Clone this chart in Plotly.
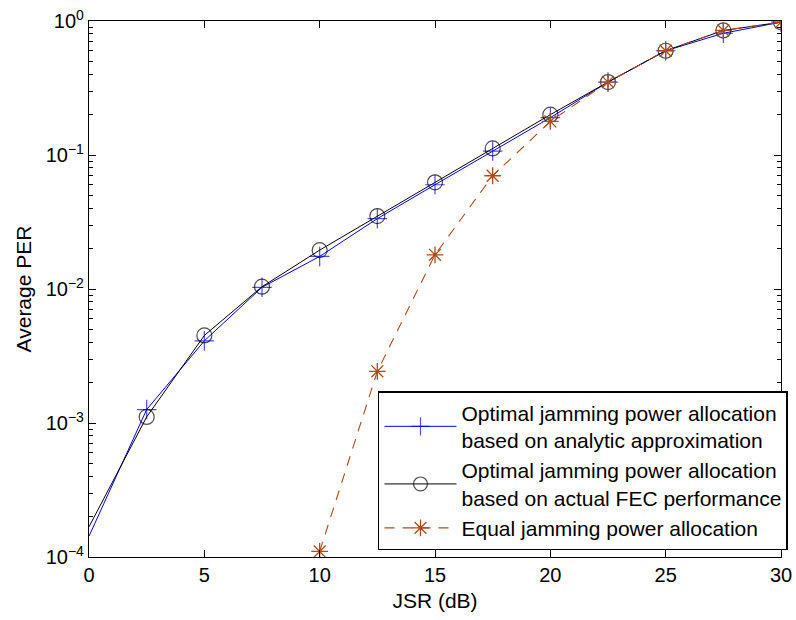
import plotly.graph_objects as go

jsr = [0, 2.5, 5, 7.5, 10, 12.5, 15, 17.5, 20, 22.5, 25, 27.5, 30]
per_analytic = [1.43e-4, 1.26e-3, 4.1e-3, 1.03e-2, 1.75e-2, 3.35e-2, 6.0e-2, 0.107, 0.19, 0.35, 0.6, 0.81, 0.98]
per_actual = [1.68e-4, 1.11e-3, 4.5e-3, 1.04e-2, 1.95e-2, 3.5e-2, 6.25e-2, 0.112, 0.2, 0.35, 0.6, 0.85, 0.98]
jsr_equal = [10, 12.5, 15, 17.5, 20, 22.5, 25, 27.5, 30]
per_equal = [1.1e-4, 2.43e-3, 1.8e-2, 7.0e-2, 0.178, 0.35, 0.6, 0.85, 0.98]

names = [
    "Optimal jamming power allocation<br>based on analytic approximation",
    "Optimal jamming power allocation<br>based on actual FEC performance",
    "Equal jamming power allocation",
]
ytick_vals = [1e-4, 1e-3, 1e-2, 1e-1, 1]
ytick_text = ["10<sup>−4</sup>", "10<sup>−3</sup>", "10<sup>−2</sup>", "10<sup>−1</sup>", "10<sup>0</sup>"]
xtick_vals = [0, 5, 10, 15, 20, 25, 30]

orange = "rgb(170,75,25)"
FONT = "Liberation Sans, Arial, sans-serif"

# no marker at the first (x = 0) point of the optimal curves
sizes_cross = [0] + [14] * (len(jsr) - 1)
sizes_circle = [0] + [15] * (len(jsr) - 1)

fig = go.Figure()
fig.add_trace(go.Scatter(
    x=jsr, y=per_analytic, name=names[0], mode="lines+markers",
    line=dict(color="#0000FF", width=1),
    marker=dict(symbol="cross-thin-open", size=sizes_cross, line=dict(color="#0000FF", width=1.2)),
))
fig.add_trace(go.Scatter(
    x=jsr, y=per_actual, name=names[1], mode="lines+markers",
    line=dict(color="black", width=1),
    marker=dict(symbol="circle-open", size=sizes_circle, color="black", line=dict(color="black", width=1.2)),
))
fig.add_trace(go.Scatter(
    x=jsr_equal, y=per_equal, name=names[2], mode="lines+markers",
    line=dict(color=orange, width=1.1, dash="10px,8px"),
    marker=dict(symbol="asterisk-open", size=14, line=dict(color=orange, width=1.3)),
))

minor_vals = [m * 10 ** e for e in range(-4, 0) for m in range(2, 10)]

axis_common = dict(
    showgrid=False, zeroline=False, showline=True, linecolor="black", linewidth=1.2,
    mirror="ticks", ticks="inside", ticklen=7, tickcolor="black", tickwidth=1,
    tickfont=dict(family=FONT, size=20, color="black"),
    title_font=dict(family=FONT, size=21, color="black"),
)

fig.update_layout(
    width=796, height=620,
    margin=dict(l=89, r=15, t=21, b=63, autoexpand=False),
    paper_bgcolor="white", plot_bgcolor="white",
    font=dict(family=FONT, color="black"),
    xaxis=dict(range=[0, 30], tickvals=xtick_vals, title=dict(text="JSR (dB)", standoff=8), **axis_common),
    yaxis=dict(type="log", range=[-4, 0], tickvals=ytick_vals, ticktext=ytick_text,
               title=dict(text="Average PER", standoff=8),
               minor=dict(tickvals=minor_vals, ticks="inside", ticklen=4, tickcolor="black", tickwidth=1),
               **axis_common),
    legend=dict(
        x=1.0101, xanchor="right", y=0.013, yanchor="bottom",
        bgcolor="white", bordercolor="black", borderwidth=1.5,
        font=dict(family=FONT, size=21, color="black"),
        itemwidth=72, tracegroupgap=0,
    ),
    showlegend=True,
)

fig.write_html("out.html")
